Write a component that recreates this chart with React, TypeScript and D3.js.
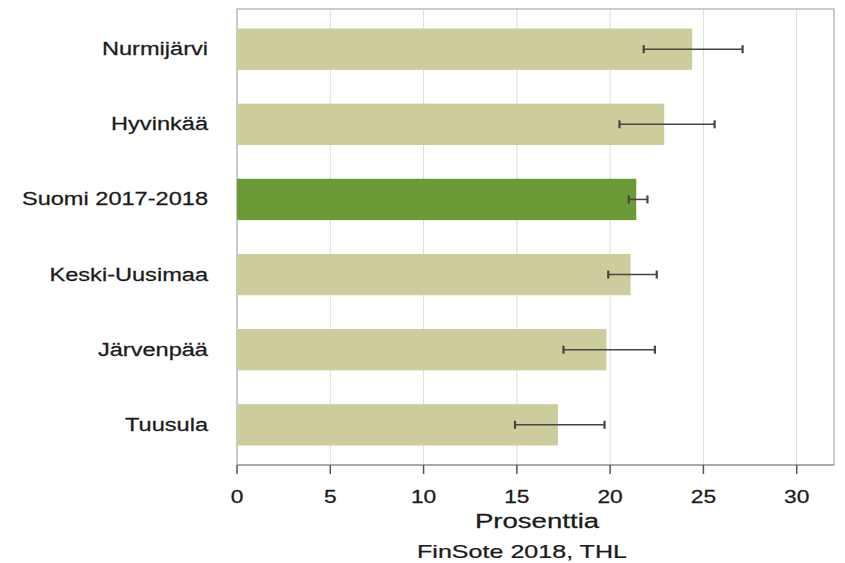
import React, { useEffect, useRef } from 'react';
import * as d3 from 'd3';

const categories = ['Nurmijärvi', 'Hyvinkää', 'Suomi 2017-2018', 'Keski-Uusimaa', 'Järvenpää', 'Tuusula'];
const values = [24.4, 22.9, 21.4, 21.1, 19.8, 17.2];
const lower = [21.8, 20.5, 21.0, 19.9, 17.5, 14.9];
const upper = [27.1, 25.6, 22.0, 22.5, 22.4, 19.7];
const highlight = 'Suomi 2017-2018';
const xTicks = [0, 5, 10, 15, 20, 25, 30];

const App: React.FC = () => {
  const svgRef = useRef<SVGSVGElement | null>(null);

  useEffect(() => {
    if (!svgRef.current) return;
    const svg = d3.select(svgRef.current);
    svg.selectAll('*').remove();

    const left = 237, right = 834, top = 9, bottom = 465;
    const font = '"Liberation Sans", Arial, sans-serif';
    const sx = 1.3; // the picture is stretched sideways

    const x = d3.scaleLinear().domain([0, 32]).range([left, right]);
    const y = d3.scaleBand().domain(categories).range([top, bottom]).paddingInner(0.45).paddingOuter(0.26);

    const rows = categories.map((c, i) => ({ c, v: values[i], lo: lower[i], hi: upper[i] }));

    // grid lines
    svg.append('g')
      .selectAll('line')
      .data(xTicks.filter(t => t > 0))
      .enter().append('line')
      .attr('x1', d => x(d)).attr('x2', d => x(d))
      .attr('y1', top).attr('y2', bottom)
      .attr('stroke', '#dcdcdc').attr('stroke-width', 1);

    // plot border
    svg.append('rect')
      .attr('x', left).attr('y', top)
      .attr('width', right - left).attr('height', bottom - top)
      .attr('fill', 'none').attr('stroke', '#a8a8a8').attr('stroke-width', 1.2);

    // bars
    svg.append('g')
      .selectAll('rect')
      .data(rows)
      .enter().append('rect')
      .attr('x', x(0))
      .attr('y', d => y(d.c) ?? 0)
      .attr('width', d => x(d.v) - x(0))
      .attr('height', y.bandwidth())
      .attr('fill', d => (d.c === highlight ? '#6b9a36' : '#cdcc9c'));

    // error bars
    const eb = svg.append('g').attr('stroke', '#454545');
    rows.forEach(d => {
      const cy = (y(d.c) ?? 0) + y.bandwidth() / 2;
      eb.append('line').attr('x1', x(d.lo)).attr('x2', x(d.hi)).attr('y1', cy).attr('y2', cy).attr('stroke-width', 1.5);
      [d.lo, d.hi].forEach(v => {
        eb.append('line').attr('x1', x(v)).attr('x2', x(v)).attr('y1', cy - 4).attr('y2', cy + 4).attr('stroke-width', 2.2);
      });
    });

    // x axis
    svg.append('line')
      .attr('x1', left).attr('x2', right).attr('y1', bottom).attr('y2', bottom)
      .attr('stroke', '#888').attr('stroke-width', 1.2);
    svg.append('g')
      .selectAll('line')
      .data(xTicks)
      .enter().append('line')
      .attr('x1', d => x(d)).attr('x2', d => x(d))
      .attr('y1', bottom).attr('y2', bottom + 9)
      .attr('stroke', '#555').attr('stroke-width', 1.5);

    const label = (tx: number, ty: number, txt: string, anchor: string, size: number, scale = sx) => {
      svg.append('text')
        .attr('transform', `translate(${tx},${ty}) scale(${scale},1)`)
        .attr('text-anchor', anchor)
        .style('font-family', font)
        .style('font-size', `${size}px`)
        .attr('fill', '#1a1a1a')
        .attr('stroke', '#1a1a1a')
        .attr('stroke-width', 0.25)
        .text(txt);
    };

    xTicks.forEach(t => label(x(t), 503, String(t), 'middle', 17.5));
    rows.forEach(d => label(208, (y(d.c) ?? 0) + y.bandwidth() / 2 + 6, d.c, 'end', 18, 1.31));
    label(537, 528, 'Prosenttia', 'middle', 20, 1.38);
    label(522, 558, 'FinSote 2018, THL', 'middle', 19, 1.32);
  }, []);

  return (
    <svg ref={svgRef} width={845} height={563}
      style={{ position: 'absolute', left: 0, top: 0, background: '#fff' }} />
  );
};

export default App;
